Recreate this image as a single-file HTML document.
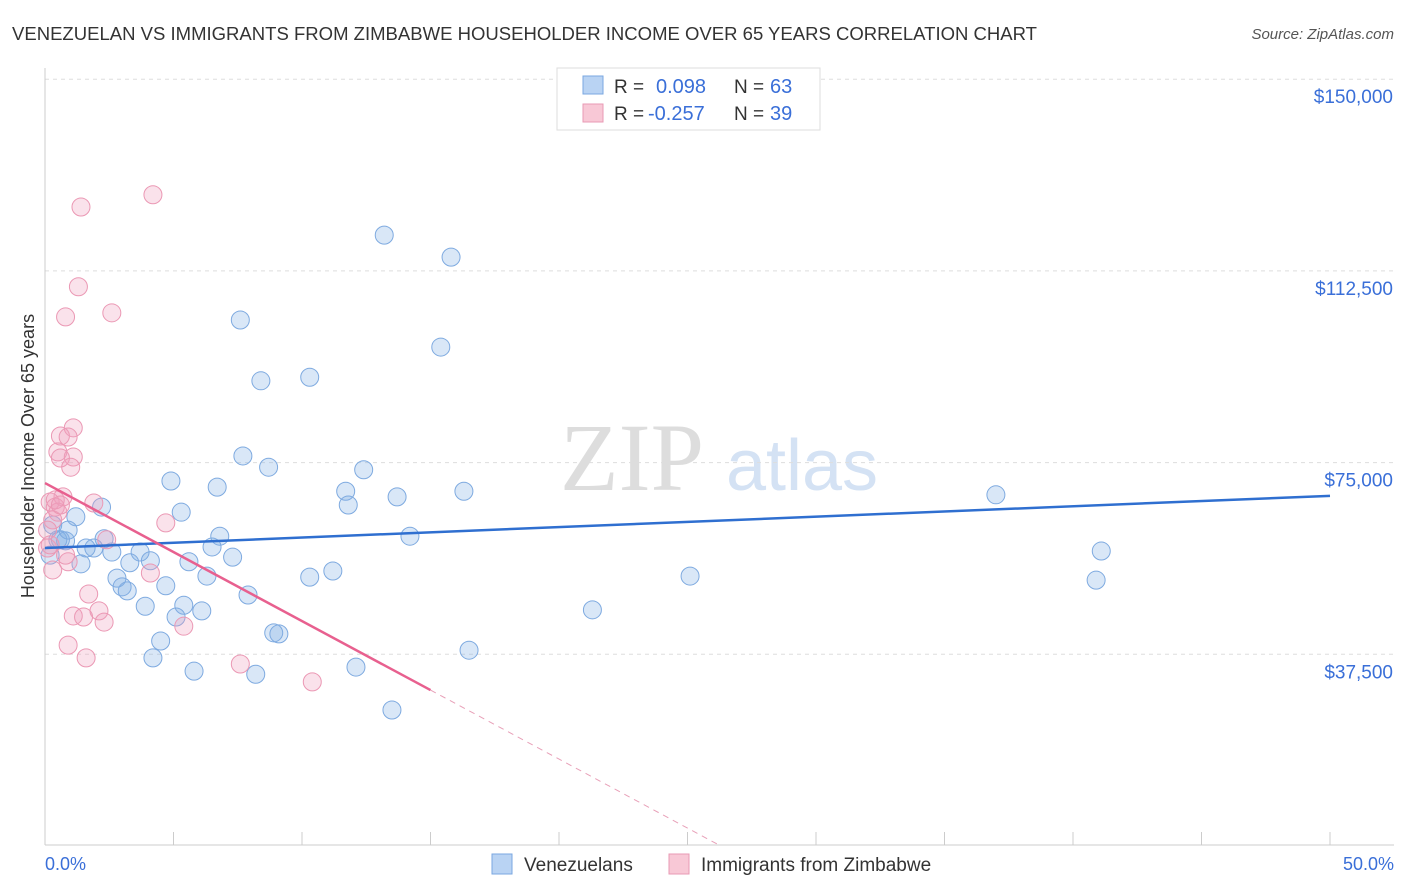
<!DOCTYPE html>
<html><head><meta charset="utf-8"><style>
body{margin:0;background:#fff;font-family:"Liberation Sans",sans-serif;}
#wrap{position:relative;width:1406px;height:892px;overflow:hidden;}
</style></head><body>
<div id="wrap">
<svg id="svg" width="1406" height="892" xmlns="http://www.w3.org/2000/svg">
<text x="12" y="40" font-size="18" fill="#333" textLength="1025" lengthAdjust="spacingAndGlyphs">VENEZUELAN VS IMMIGRANTS FROM ZIMBABWE HOUSEHOLDER INCOME OVER 65 YEARS CORRELATION CHART</text>
<text x="1394" y="39" font-size="15" fill="#555" font-style="italic" text-anchor="end">Source: ZipAtlas.com</text>
<g>
<text x="632" y="490" font-size="96" fill="#ddd" font-family="Liberation Serif" text-anchor="middle">ZIP</text>
<text x="802" y="490" font-size="72" fill="#d4e2f4" text-anchor="middle">atlas</text>
</g>
<g id="grid"></g><g id="axes"></g><g id="pts"></g><g id="trend"></g>
<g>
<rect x="557" y="68" width="263" height="62" fill="#fff" stroke="#ddd"/>
<rect x="583" y="76" width="20" height="18" fill="#b9d3f3" stroke="#7aa7e0"/>
<text x="614" y="93" font-size="19" fill="#333">R =</text><text x="656" y="93" font-size="20" fill="#3a6fd8">0.098</text>
<text x="734" y="93" font-size="19" fill="#333">N =</text><text x="770" y="93" font-size="20" fill="#3a6fd8">63</text>
<rect x="583" y="104" width="20" height="18" fill="#f8c8d6" stroke="#e89ab4"/>
<text x="614" y="120" font-size="19" fill="#333">R =</text><text x="648" y="120" font-size="20" fill="#3a6fd8">-0.257</text>
<text x="734" y="120" font-size="19" fill="#333">N =</text><text x="770" y="120" font-size="20" fill="#3a6fd8">39</text>
</g>
<g>
<rect x="492" y="854" width="20" height="20" fill="#b9d3f3" stroke="#7aa7e0"/>
<text x="524" y="871" font-size="19" fill="#333">Venezuelans</text>
<rect x="669" y="854" width="20" height="20" fill="#f8c8d6" stroke="#e89ab4"/>
<text x="701" y="871" font-size="19" fill="#333">Immigrants from Zimbabwe</text>
</g>
<text x="45" y="870" font-size="18" fill="#3a6fd8">0.0%</text>
<text x="1394" y="870" font-size="18" fill="#3a6fd8" text-anchor="end">50.0%</text>
<text transform="translate(34,456) rotate(-90)" font-size="18" fill="#333" text-anchor="middle">Householder Income Over 65 years</text>
</svg>
</div>
<script>
const blueX=[13.2,15.8,7.6,15.4,10.3,8.4,7.7,8.7,12.4,4.9,6.7,11.7,16.3,13.7,11.8,5.3,2.2,1.2,6.8,14.2,6.5,2.3,1.9,1.6,0.5,0.8,2.6,3.7,7.3,4.1,5.6,1.4,3.3,2.8,6.3,10.3,11.2,3.0,3.2,4.7,7.9,3.9,5.4,6.1,5.1,9.1,8.9,4.5,4.2,16.5,12.1,5.8,8.2,13.5,21.3,25.1,37.0,41.1,40.9,0.3,0.6,0.2,0.9];
const blueY=[119.5,115.2,102.9,97.6,91.7,91.0,76.3,74.1,73.6,71.4,70.2,69.4,69.4,68.3,66.7,65.3,66.3,64.4,60.6,60.6,58.5,60.1,58.3,58.3,59.9,59.7,57.5,57.5,56.5,55.8,55.6,55.2,55.4,52.4,52.8,52.6,53.8,50.7,49.9,50.9,49.1,46.9,47.1,46.0,44.8,41.5,41.7,40.1,36.8,38.3,35.0,34.2,33.6,26.6,46.2,52.8,68.7,57.7,52.0,62.8,59.9,56.9,61.8];
const pinkX=[4.2,1.4,1.3,0.8,2.6,1.1,0.6,0.9,0.5,1.1,0.6,1.0,0.7,0.2,0.4,1.9,0.5,0.3,4.7,2.4,0.1,0.3,0.9,0.8,4.1,1.7,2.1,1.1,1.5,2.3,5.4,0.9,1.6,7.6,10.4,0.4,0.6,0.1,0.2];
const pinkY=[127.4,125.0,109.4,103.5,104.3,81.8,80.2,80.0,77.1,76.1,75.9,74.1,68.3,67.3,66.3,67.1,65.3,63.8,63.2,59.9,58.3,54.0,55.6,56.9,53.4,49.3,46.0,45.0,44.8,43.8,43.0,39.3,36.8,35.6,32.1,67.7,66.7,61.8,58.9];
const yTicks=[37.5,75,112.5,150];
const yTickLabels=["$37,500","$75,000","$112,500","$150,000"];
const blueTrend=[58.3,68.5];
const pinkTrend=[71.0,-2.7];
const X=v=>45+v/50*1285, Y=v=>846-v/37.5*191.7;
const NS="http://www.w3.org/2000/svg";
function mk(tag,attrs,parent){const e=document.createElementNS(NS,tag);for(const k in attrs)e.setAttribute(k,attrs[k]);document.getElementById(parent).appendChild(e);return e;}
yTicks.forEach((t,i)=>{
 const g=mk('line',{x1:45,x2:1394,y1:Y(t),y2:Y(t),stroke:'#ddd','stroke-dasharray':'4,4'},'grid');
 
 
 const tx=mk('text',{x:1393,y:Y(t)+24,'font-size':19,fill:'#3a6fd8','text-anchor':'end'},'grid');
 tx.textContent=yTickLabels[i];
 
 
});
mk('line',{x1:45,x2:45,y1:68,y2:845,stroke:'#ccc'},'axes');
mk('line',{x1:45,x2:1394,y1:845,y2:845,stroke:'#ccc'},'axes');
for(let v=0;v<=50;v+=5){const l=mk('line',{x1:X(v),x2:X(v),y1:832,y2:845,stroke:'#ccc'},'axes');
 
 }
function pts(xs,ys,fill,stroke,name){xs.forEach((x,i)=>{const c=mk('circle',{cx:X(x),cy:Y(ys[i]),r:9,fill:fill,stroke:stroke,'stroke-width':1},'pts');
 
 });}
pts(blueX,blueY,'rgba(130,175,230,0.3)','#7eaae0','venezuelan-point');
pts(pinkX,pinkY,'rgba(240,160,190,0.3)','#eb98b4','zimbabwe-point');
const bl=mk('line',{x1:X(0),y1:Y(blueTrend[0]),x2:X(50),y2:Y(blueTrend[1]),stroke:'#2f6fd0','stroke-width':2.5},'trend');


const pe=15, pz=-pinkTrend[0]/pinkTrend[1];
const pl=mk('line',{x1:X(0),y1:Y(pinkTrend[0]),x2:X(pe),y2:Y(pinkTrend[0]+pinkTrend[1]*pe),stroke:'#e8608f','stroke-width':2.5},'trend');


const pd=mk('line',{x1:X(pe),y1:Y(pinkTrend[0]+pinkTrend[1]*pe),x2:X(pz),y2:Y(0),stroke:'#e8a0b8','stroke-width':1,'stroke-dasharray':'6,5'},'trend');


</script>
</body></html>
